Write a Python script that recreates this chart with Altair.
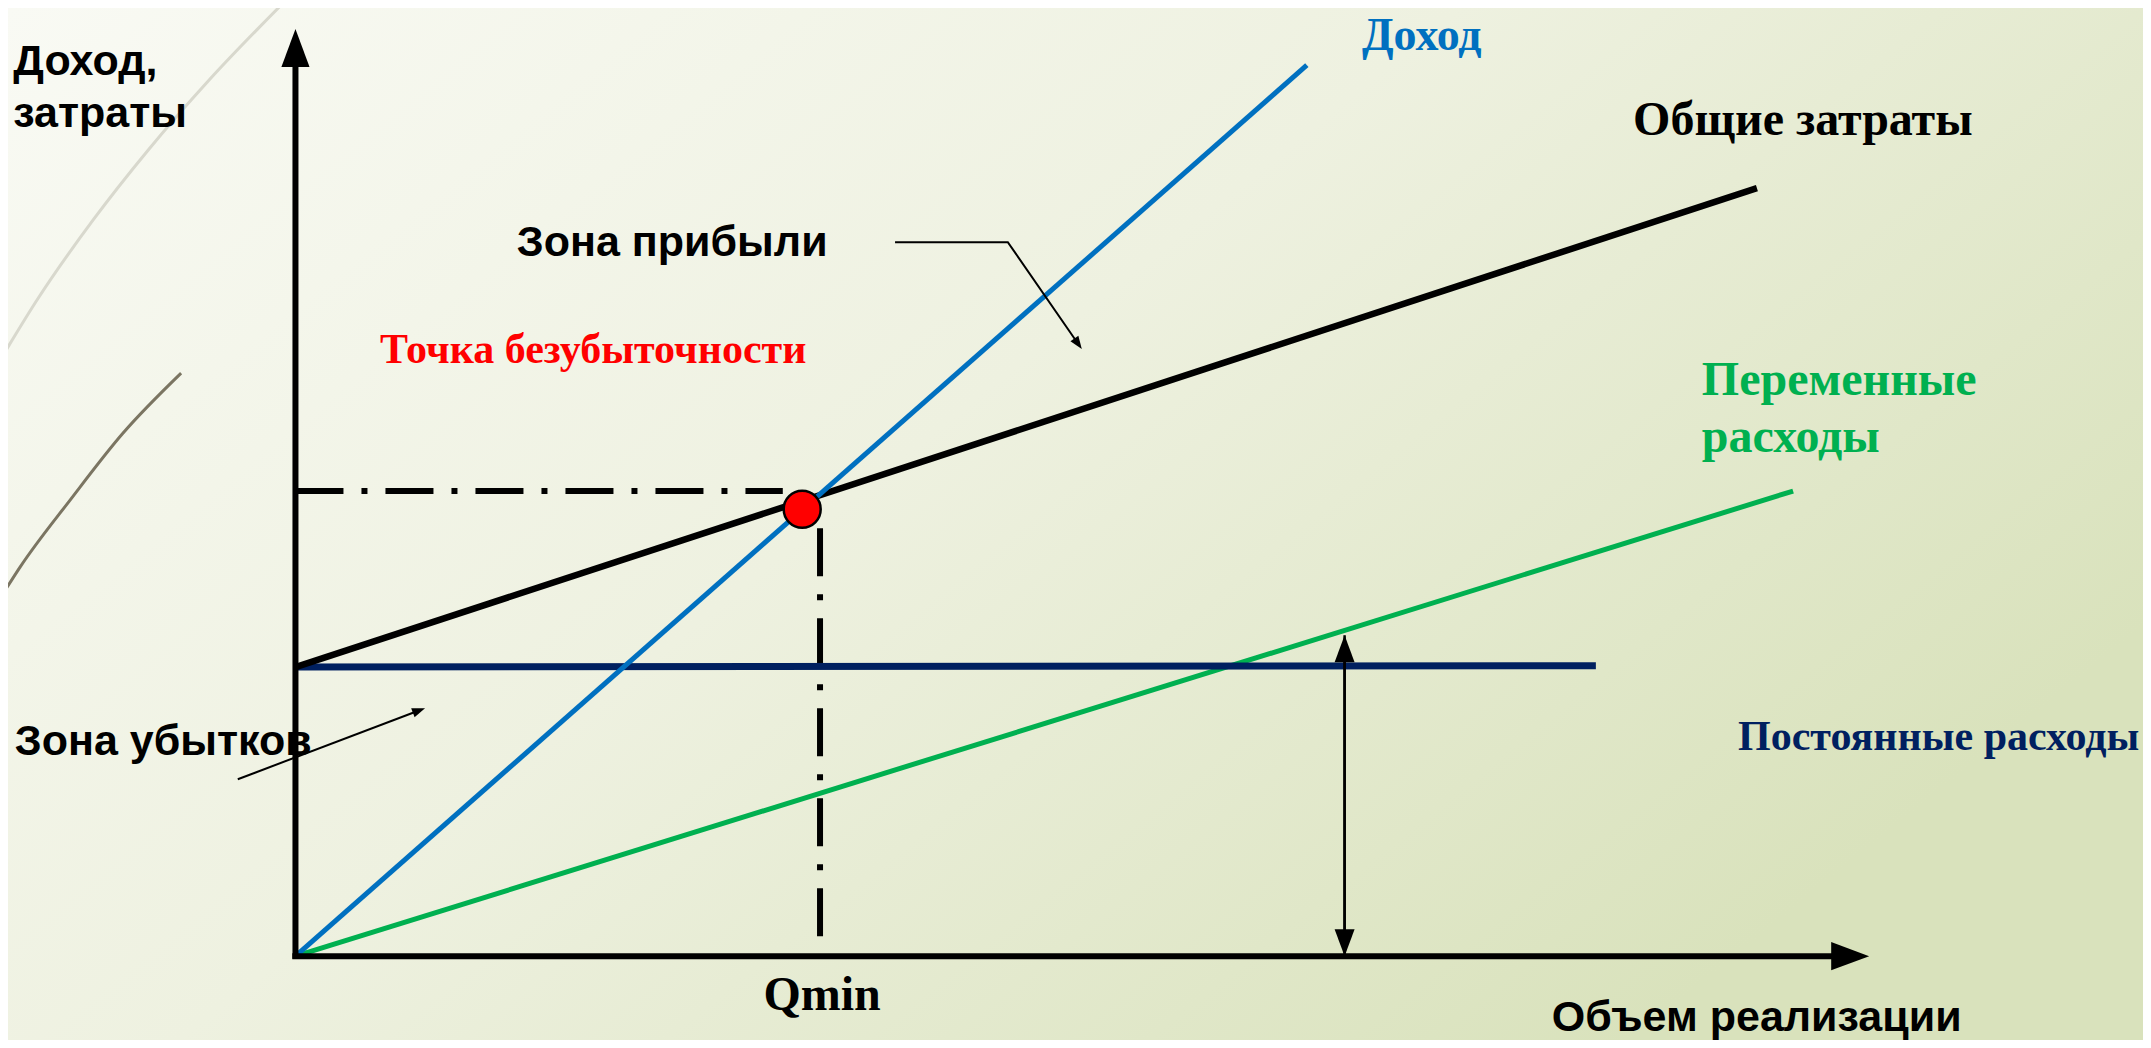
import math
import altair as alt
import pandas as pd

# ---------------- data (volume units Q, money units V) ----------------
revenue_q = [0.0, 192.8]
revenue_v = [0.0, 308.2]
total_q = [0.0, 278.6]
total_v = [100.0, 265.7]
variable_q = [0.0, 285.5]
variable_v = [0.0, 160.9]
fixed_q = [0.0, 247.9]
fixed_v = [100.0, 100.5]
breakeven_q = [96.6]
breakeven_v = [154.6]
qmin_q = 100.0
guide_h_q = [0.0, 92.9]
guide_h_v = 160.9
guide_v_top = 148.0
axis_q_max = 300.0
axis_v_max = 320.7
fixed_marker_q = 200.0
fixed_marker_v = [0.0, 111.0]
profit_arrow_q = [114.3, 135.8, 149.9]
profit_arrow_v = [247.0, 247.0, 210.0]
loss_arrow_q = [-11.0, 24.7]
loss_arrow_v = [61.2, 85.8]
deco_light_q = [-56.3, -49.3, -38.6, -28.1, -16.5, -2.95]
deco_light_v = [206.2, 226.9, 254.6, 278.8, 303.0, 328.6]
deco_dark_q = [-56.3, -52.5, -43.0, -32.9, -21.8]
deco_dark_v = [123.8, 134.6, 157.7, 180.9, 201.7]

# ---------------- layout ----------------
W, H = 2135, 1032
XDOM = [-54.8, 352.2]
YDOM = [-29.0, 328.0]
PX_X = W / (XDOM[1] - XDOM[0])
PX_Y = H / (YDOM[1] - YDOM[0])
xs = alt.Scale(domain=XDOM, nice=False, zero=False)
ys = alt.Scale(domain=YDOM, nice=False, zero=False)

C_BLUE = "#0070c0"
C_GREEN = "#00b050"
C_NAVY = "#002060"
C_RED = "#ff0000"
DASHDOT = [48, 18, 6, 18]
HEAD = "M0,0L0.74,2L-0.74,2Z"


def XY():
    return dict(x=alt.X("q:Q", scale=xs, axis=None), y=alt.Y("v:Q", scale=ys, axis=None))


def line(qs, vs, color, width, dash=None, interp=None):
    df = pd.DataFrame({"q": qs, "v": vs, "o": list(range(len(qs)))})
    kw = dict(color=color, strokeWidth=width)
    if dash:
        kw["strokeDash"] = dash
    if interp:
        kw["interpolate"] = interp
    return alt.Chart(df).mark_line(**kw).encode(order="o:Q", **XY())


def direction(q0, v0, q1, v1):
    dx = (q1 - q0) * PX_X
    dy = -(v1 - v0) * PX_Y
    ang = math.degrees(math.atan2(dx, -dy)) % 360
    L = math.hypot(dx, dy)
    return ang, dx / L, dy / L


heads = []


def arrow(qs, vs, color, width, head_len, back=0.5):
    """polyline with an arrowhead at its last point; shaft shortened under the head"""
    ang, ux, uy = direction(qs[-2], vs[-2], qs[-1], vs[-1])
    qq = list(qs)
    vv = list(vs)
    qq[-1] = qs[-1] - ux * head_len * back / PX_X
    vv[-1] = vs[-1] + uy * head_len * back / PX_Y
    heads.append({"q": qs[-1], "v": vs[-1], "angle": ang, "size": head_len ** 2})
    return line(qq, vv, color, width)


layers = []

# background gradient
grad = alt.LinearGradient(
    gradient="linear",
    stops=[
        alt.GradientStop(color="#f9faf4", offset=0),
        alt.GradientStop(color="#eef1e0", offset=0.5),
        alt.GradientStop(color="#d9e2bc", offset=1),
    ],
    x1=0, y1=0, x2=1, y2=0.6,
)
layers.append(
    alt.Chart(pd.DataFrame({"a": [0]})).mark_rect(color=grad).encode(
        x=alt.value(0), x2=alt.value(W), y=alt.value(0), y2=alt.value(H)
    )
)

# decorative arcs
layers.append(line(deco_light_q, deco_light_v, "#d8d8cd", 3, interp="monotone"))
layers.append(line(deco_dark_q, deco_dark_v, "#7b7562", 3, interp="monotone"))

# guides (dash-dot)
layers.append(line(guide_h_q, [guide_h_v, guide_h_v], "#000000", 6, dash=DASHDOT))
layers.append(line([qmin_q, qmin_q], [guide_v_top, 0.0], "#000000", 6, dash=DASHDOT))

# series lines
layers.append(line(variable_q, variable_v, C_GREEN, 5))
layers.append(line(fixed_q, fixed_v, C_NAVY, 7))
layers.append(line(total_q, total_v, "#000000", 6.5))
layers.append(line(revenue_q, revenue_v, C_BLUE, 5))

# axes with arrows
layers.append(arrow([0.0, 0.0], [-0.9, axis_v_max], "#000000", 6, 38))
layers.append(arrow([-0.6, axis_q_max], [0.0, 0.0], "#000000", 6, 38))

# fixed cost double arrow
layers.append(arrow([fixed_marker_q, fixed_marker_q], fixed_marker_v, "#000000", 2.5, 27))
layers.append(arrow([fixed_marker_q, fixed_marker_q], fixed_marker_v[::-1], "#000000", 2.5, 27))

# zone pointers
layers.append(arrow(profit_arrow_q, profit_arrow_v, "#000000", 2, 13))
layers.append(arrow(loss_arrow_q, loss_arrow_v, "#000000", 2, 13))

layers.append(
    alt.Chart(pd.DataFrame(heads)).mark_point(
        shape=HEAD, filled=True, color="#000000", opacity=1, strokeWidth=0
    ).encode(
        angle=alt.Angle("angle:Q", scale=None),
        size=alt.Size("size:Q", scale=None),
        **XY(),
    )
)

# break-even point
layers.append(
    alt.Chart(pd.DataFrame({"q": breakeven_q, "v": breakeven_v})).mark_point(
        shape="circle", filled=True, fill=C_RED, stroke="#000000", strokeWidth=2.5,
        size=1369, opacity=1
    ).encode(**XY())
)

# texts
label_text = ["Доход,", "затраты", "Зона прибыли", "Зона убытков", "Объем реализации",
              "Точка безубыточности", "Доход", "Общие затраты", "Переменные", "расходы",
              "Постоянные расходы", "Qmin"]
label_q = [-53.8, -53.8, 42.2, -53.5, 239.5, 16.1, 203.3, 255.0, 268.1, 268.1, 275.0, 100.4]
label_v = [304.8, 286.8, 242.1, 69.5, -25.9, 205.1, 313.4, 284.0, 194.1, 174.3, 71.3, -18.7]
label_font = ["Liberation Sans"] * 5 + ["Liberation Serif"] * 7
label_size = [43, 43, 43, 43, 43, 42, 46, 48, 48, 48, 42, 48]
label_color = ["#000000"] * 5 + [C_RED, C_BLUE, "#000000", C_GREEN, C_GREEN, C_NAVY, "#000000"]
label_align = ["left"] * 11 + ["center"]

for t, q, v, f, s, c, a in zip(label_text, label_q, label_v, label_font, label_size,
                               label_color, label_align):
    layers.append(
        alt.Chart(pd.DataFrame({"q": [q], "v": [v], "t": [t]})).mark_text(
            font=f, fontSize=s, fontWeight="bold", color=c, align=a, baseline="alphabetic"
        ).encode(text="t:N", **XY())
    )

chart = alt.layer(*layers).properties(
    width=W, height=H, autosize=alt.AutoSizeParams(type="none"), padding=0,
    background="#f9faf4",
).configure_view(stroke=None)

chart.save("out.html", embed_options={"renderer": "svg", "actions": False})
